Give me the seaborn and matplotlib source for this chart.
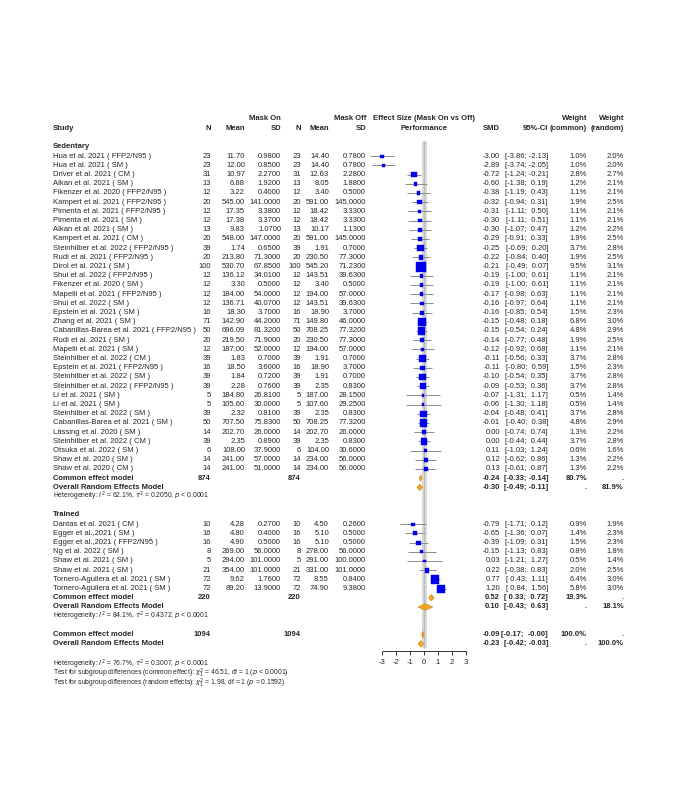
import matplotlib
matplotlib.use("Agg")
import matplotlib.pyplot as plt
import seaborn as sns
import pandas as pd
import numpy as np

sed_study = ["Hua et al. 2021 ( FFP2/N95 )", "Hua et al. 2021 ( SM )", "Driver et al. 2021 ( CM )",
    "Alkan et al. 2021 ( SM )", "Fikenzer et al. 2020 ( FFP2/N95 )", "Kampert et al. 2021 ( FFP2/N95 )",
    "Pimenta et al. 2021 ( FFP2/N95 )", "Pimenta et al. 2021 ( SM )", "Alkan et al. 2021 ( SM )",
    "Kampert et al. 2021 ( CM )", "Steinhilber et al. 2022 ( FFP2/N95 )", "Rudi et al. 2021 ( FFP2/N95 )",
    "Dirol et al. 2021 ( SM )", "Shui et al. 2022 ( FFP2/N95 )", "Fikenzer et al. 2020 ( SM )",
    "Mapelli et al. 2021 ( FFP2/N95 )", "Shui et al. 2022 ( SM )", "Epstein et al. 2021 ( SM )",
    "Zhang et al. 2021 ( SM )", "Cabanillas-Barea et al. 2021 ( FFP2/N95 )", "Rudi et al. 2021 ( SM )",
    "Mapelli et al. 2021 ( SM )", "Steinhilber et al. 2022 ( CM )", "Epstein et al. 2021 ( FFP2/N95 )",
    "Steinhilber et al. 2022 ( SM )", "Steinhilber et al. 2022 ( FFP2/N95 )", "Li et al. 2021 ( SM )",
    "Li et al. 2021 ( SM )", "Steinhilber et al. 2022 ( SM )", "Cabanillas-Barea et al. 2021 ( SM )",
    "Lässing et al. 2020 ( SM )", "Steinhilber et al. 2022 ( CM )", "Otsuka et al. 2022 ( SM )",
    "Shaw et al. 2020 ( SM )", "Shaw et al. 2020 ( CM )"]
sed_n_on = [23,23,31,13,12,20,12,12,13,20,39,20,100,12,12,12,12,16,71,50,20,12,39,16,39,39,5,5,39,50,14,39,6,14,14]
sed_mean_on = [11.70,12.00,10.97,6.88,3.22,545.00,17.35,17.38,9.83,548.00,1.74,213.80,530.70,136.12,3.30,184.00,
    136.71,18.30,142.90,696.09,219.50,187.00,1.83,18.50,1.84,2.28,184.80,105.60,2.32,707.50,202.70,2.35,108.00,241.00,241.00]
sed_sd_on = [0.98,0.85,2.27,1.92,0.40,141.0,3.38,3.37,1.07,147.0,0.65,71.3,67.85,34.01,0.50,54.0,40.07,3.70,44.2,
    81.32,71.9,52.0,0.70,3.60,0.72,0.76,26.81,30.0,0.81,75.83,26.0,0.89,37.9,57.0,51.0]
sed_n_off = sed_n_on
sed_mean_off = [14.40,14.40,12.63,8.05,3.40,591.00,18.42,18.42,10.17,591.00,1.91,230.50,545.20,143.51,3.40,194.00,
    143.51,18.90,149.80,708.25,230.50,194.00,1.91,18.90,1.91,2.35,187.00,107.60,2.35,708.25,202.70,2.35,104.00,234.00,234.00]
sed_sd_off = [0.78,0.78,2.28,1.88,0.50,145.0,3.33,3.33,1.13,145.0,0.70,77.3,71.23,39.63,0.50,57.0,39.63,3.70,46.0,
    77.32,77.3,57.0,0.70,3.70,0.70,0.83,28.15,29.25,0.83,77.32,26.0,0.83,30.6,56.0,56.0]
sed_smd = [-3.00,-2.89,-0.72,-0.60,-0.38,-0.32,-0.31,-0.30,-0.30,-0.29,-0.25,-0.22,-0.21,-0.19,-0.19,-0.17,-0.16,
    -0.16,-0.15,-0.15,-0.14,-0.12,-0.11,-0.11,-0.10,-0.09,-0.07,-0.06,-0.04,-0.01,0.00,0.00,0.11,0.12,0.13]
sed_lo = [-3.86,-3.74,-1.24,-1.38,-1.19,-0.94,-1.11,-1.11,-1.07,-0.91,-0.69,-0.84,-0.49,-1.00,-1.00,-0.98,-0.97,
    -0.85,-0.48,-0.54,-0.77,-0.92,-0.56,-0.80,-0.54,-0.53,-1.31,-1.30,-0.48,-0.40,-0.74,-0.44,-1.03,-0.62,-0.61]
sed_hi = [-2.13,-2.05,-0.21,0.19,0.43,0.31,0.50,0.51,0.47,0.33,0.20,0.40,0.07,0.61,0.61,0.63,0.64,0.54,0.18,0.24,
    0.48,0.68,0.33,0.59,0.35,0.36,1.17,1.18,0.41,0.38,0.74,0.44,1.24,0.86,0.87]
sed_wc = [1.0,1.0,2.8,1.2,1.1,1.9,1.1,1.1,1.2,1.9,3.7,1.9,9.5,1.1,1.1,1.1,1.1,1.5,6.8,4.8,1.9,1.1,3.7,1.5,3.7,3.7,
    0.5,0.5,3.7,4.8,1.3,3.7,0.6,1.3,1.3]
sed_wr = [2.0,2.0,2.7,2.1,2.1,2.5,2.1,2.1,2.2,2.5,2.8,2.5,3.1,2.1,2.1,2.1,2.1,2.3,3.0,2.9,2.5,2.1,2.8,2.3,2.8,2.8,
    1.4,1.4,2.8,2.9,2.2,2.8,1.6,2.2,2.2]

tr_study = ["Dantas et al. 2021 ( CM )", "Egger et al.,2021 ( SM )", "Egger et al.,2021 ( FFP2/N95 )",
    "Ng et al. 2022 ( SM )", "Shaw et al. 2021 ( SM )", "Shaw et al. 2021 ( SM )",
    "Tornero-Aguilera et al. 2021 ( SM )", "Tornero-Aguilera et al. 2021 ( SM )"]
tr_n_on = [10,16,16,8,5,21,72,72]
tr_mean_on = [4.28,4.80,4.90,269.00,294.00,354.00,9.62,89.20]
tr_sd_on = [0.27,0.40,0.50,56.0,101.0,101.0,1.76,13.9]
tr_n_off = tr_n_on
tr_mean_off = [4.50,5.10,5.10,278.00,291.00,331.00,8.55,74.90]
tr_sd_off = [0.26,0.50,0.50,56.0,100.0,101.0,0.84,9.38]
tr_smd = [-0.79,-0.65,-0.39,-0.15,0.03,0.22,0.77,1.20]
tr_lo = [-1.71,-1.36,-1.09,-1.13,-1.21,-0.38,0.43,0.84]
tr_hi = [0.12,0.07,0.31,0.83,1.27,0.83,1.11,1.56]
tr_wc = [0.9,1.4,1.5,0.8,0.5,2.0,6.4,5.8]
tr_wr = [1.9,2.3,2.3,1.8,1.4,2.5,3.0,3.0]

# summaries: label, N, smd, lo, hi, wc, wr
sed_summ = [("Common effect model", 874, -0.24, -0.33, -0.14, "80.7%", "."),
            ("Overall Random Effects Model", None, -0.30, -0.49, -0.11, ".", "81.9%")]
tr_summ = [("Common effect model", 220, 0.52, 0.33, 0.72, "19.3%", "."),
           ("Overall Random Effects Model", None, 0.10, -0.43, 0.63, ".", "18.1%")]
all_summ = [("Common effect model", 1094, -0.09, -0.17, -0.00, "100.0%", "."),
            ("Overall Random Effects Model", None, -0.23, -0.42, -0.03, ".", "100.0%")]
x_ticks = [-3, -2, -1, 0, 1, 2, 3]

sns.set_style("white")
plt.rcParams['font.family'] = ['Liberation Sans', 'DejaVu Sans']
FS = 5.5
HS = 4.9
fig = plt.figure(figsize=(6.77, 8.0), dpi=100)
ax0 = fig.add_axes([0, 0, 1, 1]); ax0.set_xlim(0, 677); ax0.set_ylim(800, 0); ax0.axis("off")
ax = fig.add_axes([340/677, 0, 168/677, 1]); ax.set_xlim(-6, 6); ax.set_ylim(800, 0); ax.axis("off")

Y0, S = 147.0, 9.2
def yrow(i): return Y0 + i * S

def T(x, y, s, ha="right", bold=False, size=FS):
    ax0.text(x, y, s, ha=ha, va="center", fontsize=size, fontweight="bold" if bold else "normal")

# headers
T(281, 119, "Mask On", bold=True); T(366, 119, "Mask Off", bold=True)
T(424, 119, "Effect Size (Mask On vs Off)", ha="center", bold=True)
T(424, 128, "Performance", ha="center", bold=True)
T(53, 128, "Study", ha="left", bold=True)
for x, s in [(211, "N"), (245, "Mean"), (281, "SD"), (301, "N"), (329, "Mean"), (366, "SD"),
             (500, "SMD"), (548, "95%-CI"), (587, "(common)"), (624, "(random)")]:
    T(x, 128, s, bold=True)
T(587, 119, "Weight", bold=True); T(624, 119, "Weight", bold=True)

def fmt_ci(lo, hi):
    f = lambda v: ("%.2f" % v) if v < 0 else " %.2f" % v
    return "[%s; %s]" % (f(lo), f(hi))

def study_block(start, names, n1, m1, s1, n2, m2, s2, smd, lo, hi, wc, wr):
    ys = [yrow(start + k) for k in range(len(names))]
    for k, y in enumerate(ys):
        T(53, y, names[k], ha="left")
        T(211, y, str(n1[k])); T(245, y, "%.2f" % m1[k]); T(281, y, "%.4f" % s1[k])
        T(301, y, str(n2[k])); T(329, y, "%.2f" % m2[k]); T(366, y, "%.4f" % s2[k])
        T(500, y, "%.2f" % smd[k]); T(548, y, fmt_ci(lo[k], hi[k]))
        T(587, y, "%.1f%%" % wc[k]); T(624, y, "%.1f%%" % wr[k])
    df = pd.DataFrame({"smd": smd, "lo": lo, "hi": hi, "w": wc, "y": ys})
    ax.hlines(df["y"], df["lo"], df["hi"], color="#8c8c8c", lw=0.7, zorder=2)
    sns.scatterplot(data=df, x="smd", y="y", size="w", sizes=(0.5, 52), size_norm=(0, 9.5),
                    marker="s", color="#0000ee", edgecolor="#0000ee", linewidth=0.3,
                    legend=False, ax=ax, zorder=3)

def summ_block(start, rows):
    for k, (lab, n, smd, lo, hi, wc, wr) in enumerate(rows):
        y = yrow(start + k)
        T(53, y, lab, ha="left", bold=True)
        if n is not None:
            T(211, y, str(n), bold=True); T(301, y, str(n), bold=True)
        T(500, y, "%.2f" % smd, bold=True); T(548, y, fmt_ci(lo, hi), bold=True)
        T(587, y, wc, bold=True); T(624, y, wr, bold=True)
        ax.fill([lo, smd, hi, smd], [y, y - 3.2, y, y + 3.2], color="#f5a623", ec="#d4880f", lw=0.5, zorder=4)

# reference line
ax.vlines(0, 141, 648, color="#d6d6d6", lw=3.5, zorder=1)
ax.vlines(0, 141, 648, color="#9a9a9a", lw=0.6, linestyles=(0, (1, 1)), zorder=1)

T(53, yrow(0), "Sedentary", ha="left", bold=True)
study_block(1, sed_study, sed_n_on, sed_mean_on, sed_sd_on, sed_n_off, sed_mean_off, sed_sd_off,
            sed_smd, sed_lo, sed_hi, sed_wc, sed_wr)
summ_block(36, sed_summ)
T(53, yrow(38), r"Heterogeneity: $I^2$ = 62.1%, $\tau^2$ = 0.2050, $p$ < 0.0001", ha="left", size=HS)

T(53, yrow(40), "Trained", ha="left", bold=True)
study_block(41, tr_study, tr_n_on, tr_mean_on, tr_sd_on, tr_n_off, tr_mean_off, tr_sd_off,
            tr_smd, tr_lo, tr_hi, tr_wc, tr_wr)
summ_block(49, tr_summ)
T(53, yrow(51), r"Heterogeneity: $I^2$ = 84.1%, $\tau^2$ = 0.4372, $p$ < 0.0001", ha="left", size=HS)
summ_block(53, all_summ)

# x axis
ya = 651
ax.hlines(ya, min(x_ticks), max(x_ticks), color="#333333", lw=0.7)
ax.vlines(x_ticks, ya, ya + 4, color="#333333", lw=0.7)
for t in x_ticks:
    ax.text(t, 663, str(t), ha="center", va="center", fontsize=FS)

T(53, 664, r"Heterogeneity: $I^2$ = 76.7%, $\tau^2$ = 0.3007, $p$ < 0.0001", ha="left", size=HS)
T(53, 673.5, r"Test for subgroup differences (common effect): $\chi^2_1$ = 46.51, df = 1 ($p$ < 0.0001)", ha="left", size=HS)
T(53, 683, r"Test for subgroup differences (random effects): $\chi^2_1$ = 1.98, df = 1 ($p$ = 0.1592)", ha="left", size=HS)

fig.savefig("out.png", dpi=100)
